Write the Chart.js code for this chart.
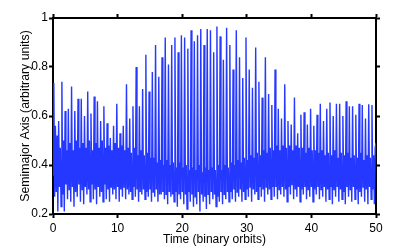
<!DOCTYPE html>
<html>
<head>
<meta charset="utf-8">
<script src="https://cdn.jsdelivr.net/npm/chart.js@4/dist/chart.umd.min.js"></script>
<style>
  html, body { margin: 0; padding: 0; background: #fff; }
  canvas { display: block; }
</style>
</head>
<body>
<canvas id="chart" width="415" height="249"></canvas>
<script>
// sample spacing along the time axis (binary orbits)
const dt = 0.125;

// axis ticks
const xTicks = [0, 10, 20, 30, 40, 50];
const yTicks = [0.2, 0.4, 0.6, 0.8, 1];

// first samples before the regular cycles start
const leadIn = [0.36, 0.735, 0.27];

// one value per half-orbit cycle
const peakVals = [
  0.56, 0.58, 0.74, 0.62, 0.63, 0.72, 0.62, 0.67, 0.67, 0.60,
  0.70, 0.61, 0.68, 0.66, 0.58, 0.64, 0.57, 0.51, 0.56, 0.65,
  0.53, 0.56, 0.73, 0.59, 0.64, 0.80, 0.64, 0.71, 0.85, 0.70,
  0.78, 0.89, 0.76, 0.84, 0.92, 0.81, 0.89, 0.92, 0.86, 0.93,
  0.92, 0.875, 0.95, 0.905, 0.93, 0.955, 0.89, 0.955, 0.95, 0.86,
  0.965, 0.925, 0.83, 0.96, 0.89, 0.79, 0.95, 0.84, 0.755, 0.92,
  0.79, 0.715, 0.88, 0.74, 0.675, 0.84, 0.69, 0.645, 0.79, 0.63,
  0.59, 0.73, 0.58, 0.565, 0.675, 0.53, 0.605, 0.615, 0.565, 0.63,
  0.56, 0.605, 0.65, 0.58, 0.63, 0.655, 0.60, 0.65, 0.65, 0.60,
  0.66, 0.64, 0.64, 0.605, 0.65, 0.645, 0.59, 0.648, 0.645
];
const bandBottom = [
  0.29, 0.31, 0.28, 0.32, 0.30, 0.31, 0.29, 0.32, 0.30, 0.31,
  0.30, 0.32, 0.30, 0.31, 0.29, 0.32, 0.30, 0.31, 0.30, 0.31,
  0.30, 0.31, 0.30, 0.29, 0.31, 0.30, 0.29, 0.30, 0.29, 0.30,
  0.29, 0.30, 0.28, 0.29, 0.28, 0.29, 0.28, 0.29, 0.28, 0.29,
  0.28, 0.29, 0.28, 0.27, 0.29, 0.28, 0.27, 0.28, 0.29, 0.28,
  0.27, 0.29, 0.28, 0.29, 0.29, 0.30, 0.29, 0.30, 0.29, 0.30,
  0.31, 0.30, 0.29, 0.31, 0.30, 0.31, 0.30, 0.31, 0.31, 0.30,
  0.31, 0.30, 0.31, 0.32, 0.30, 0.31, 0.30, 0.31, 0.30, 0.31,
  0.30, 0.31, 0.30, 0.31, 0.30, 0.31, 0.30, 0.31, 0.30, 0.29,
  0.31, 0.30, 0.31, 0.30, 0.29, 0.31, 0.30, 0.31, 0.30
];
const bandTop = [
  0.52, 0.47, 0.50, 0.46, 0.49, 0.46, 0.50, 0.47, 0.49, 0.47,
  0.50, 0.46, 0.49, 0.47, 0.50, 0.47, 0.48, 0.46, 0.49, 0.47,
  0.48, 0.46, 0.47, 0.45, 0.47, 0.44, 0.46, 0.44, 0.45, 0.43,
  0.43, 0.41, 0.42, 0.40, 0.42, 0.40, 0.41, 0.39, 0.41, 0.39,
  0.40, 0.38, 0.39, 0.38, 0.40, 0.37, 0.39, 0.38, 0.39, 0.38,
  0.40, 0.38, 0.40, 0.39, 0.41, 0.40, 0.42, 0.41, 0.43, 0.42,
  0.44, 0.43, 0.45, 0.44, 0.46, 0.45, 0.47, 0.46, 0.48, 0.46,
  0.48, 0.47, 0.48, 0.46, 0.48, 0.47, 0.47, 0.45, 0.47, 0.46,
  0.46, 0.45, 0.46, 0.44, 0.45, 0.44, 0.46, 0.43, 0.45, 0.44,
  0.45, 0.43, 0.44, 0.43, 0.45, 0.42, 0.44, 0.43, 0.44
];
const dipVals = [
  0.21, 0.23, 0.21, 0.26, 0.25, 0.23, 0.27, 0.25, 0.24, 0.28,
  0.25, 0.26, 0.24, 0.27, 0.25, 0.26, 0.25, 0.28, 0.26, 0.25,
  0.27, 0.26, 0.28, 0.26, 0.27, 0.25, 0.28, 0.26, 0.27, 0.25,
  0.27, 0.25, 0.28, 0.26, 0.24, 0.27, 0.25, 0.23, 0.26, 0.24,
  0.22, 0.25, 0.23, 0.24, 0.21, 0.25, 0.22, 0.24, 0.26, 0.23,
  0.25, 0.24, 0.26, 0.25, 0.26, 0.25, 0.27, 0.25, 0.26, 0.27,
  0.25, 0.28, 0.26, 0.27, 0.25, 0.28, 0.26, 0.27, 0.26, 0.28,
  0.27, 0.25, 0.28, 0.26, 0.27, 0.25, 0.28, 0.26, 0.27, 0.25,
  0.28, 0.26, 0.27, 0.25, 0.26, 0.24, 0.27, 0.25, 0.26, 0.24,
  0.27, 0.25, 0.26, 0.24, 0.27, 0.25, 0.24, 0.26, 0.24
];
// last samples up to t = 50
const tailVals = [0.47, 0.49];

// put the samples in time order: peak, band bottom, band top, dip
const semimajor = [...leadIn];
peakVals.forEach((p, k) => {
  semimajor.push(p, bandBottom[k], bandTop[k], dipVals[k]);
});
semimajor.push(...tailVals);
const points = semimajor.map((v, i) => ({ x: i * dt, y: v }));

const tickFont = { family: "'Liberation Sans Narrow', 'Liberation Sans', Arial, sans-serif", size: 12 };

// shared look for the frame and outward tick marks
function frameAxis(extra) {
  return Object.assign({
    type: "linear",
    grid: { drawOnChartArea: false, drawTicks: true, tickLength: 4, tickWidth: 2, tickColor: "#000" },
    border: { display: true, color: "#000", width: 2 }
  }, extra);
}

new Chart(document.getElementById("chart"), {
  type: "line",
  data: {
    datasets: [{
      data: points,
      borderColor: "#2438ff",
      borderWidth: 1.4,
      pointRadius: 0,
      tension: 0,
      fill: false
    }]
  },
  options: {
    responsive: false,
    animation: false,
    devicePixelRatio: 1,
    layout: { padding: { top: 18, right: 39, left: 0, bottom: 0 } },
    plugins: { legend: { display: false }, tooltip: { enabled: false } },
    scales: {
      x: frameAxis({
        position: "bottom",
        min: 0, max: 50,
        afterBuildTicks: s => { s.ticks = xTicks.map(v => ({ value: v })); },
        afterFit: s => { s.height = 35; },
        ticks: { color: "#000", font: tickFont, padding: 3, maxRotation: 0 },
        title: {
          display: true, text: "Time (binary orbits)", color: "#000",
          font: { family: tickFont.family, size: 12 }, padding: { top: 0, bottom: 2 }
        }
      }),
      y: frameAxis({
        position: "left",
        min: 0.2, max: 1,
        afterBuildTicks: s => { s.ticks = yTicks.map(v => ({ value: v })); },
        afterFit: s => { s.width = 53; },
        ticks: { color: "#000", font: tickFont, padding: 1, callback: v => String(+v.toFixed(1)) },
        title: {
          display: true, text: "Semimajor Axis (arbitrary units)", color: "#000",
          font: { family: "'Liberation Sans', Arial, sans-serif", size: 12.3 }, padding: { top: 18, bottom: 0 }
        }
      }),
      x2: frameAxis({
        position: "top",
        min: 0, max: 50,
        afterBuildTicks: s => { s.ticks = xTicks.map(v => ({ value: v })); },
        afterFit: s => { s.height = 0; },
        ticks: { display: false }
      }),
      y2: frameAxis({
        position: "right",
        min: 0.2, max: 1,
        afterBuildTicks: s => { s.ticks = yTicks.map(v => ({ value: v })); },
        afterFit: s => { s.width = 0; },
        ticks: { display: false }
      })
    }
  }
});
</script>
</body>
</html>
